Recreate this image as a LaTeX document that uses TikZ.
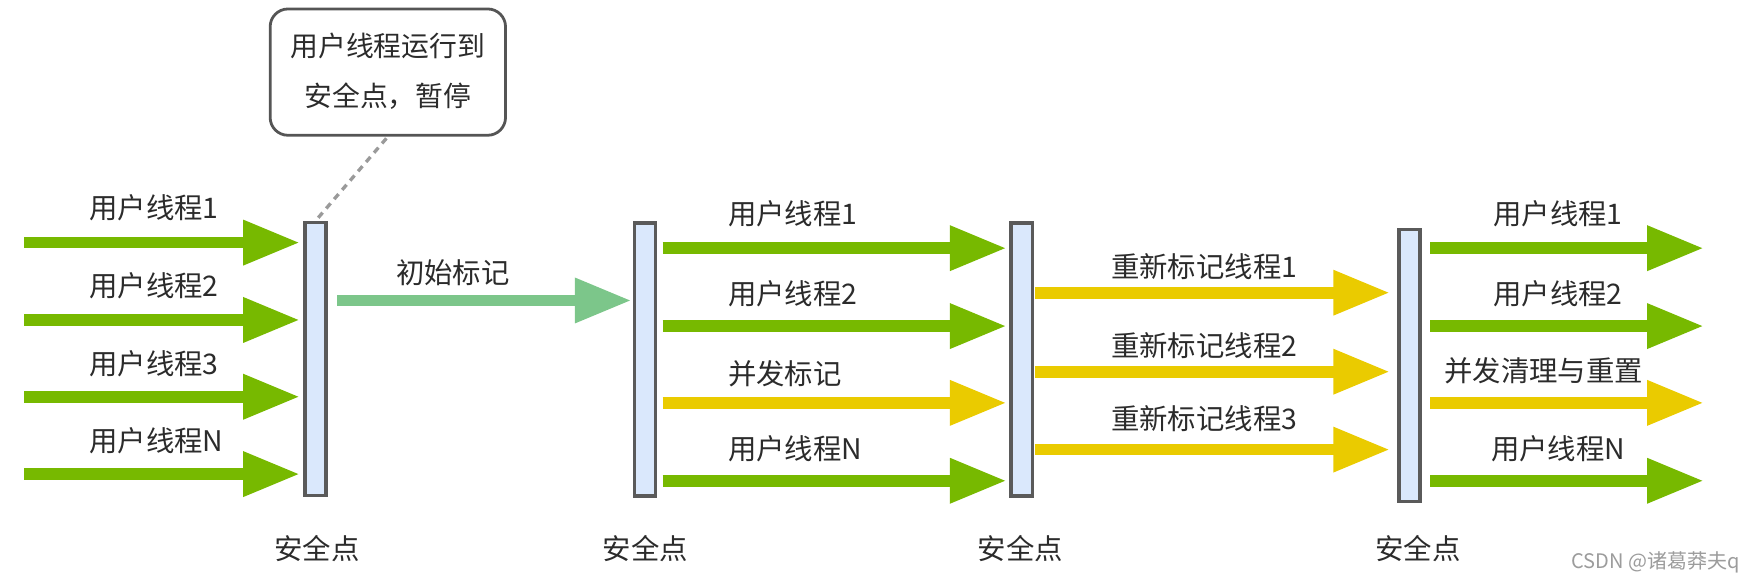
\documentclass[tikz,border=0pt]{standalone}
\usepackage{fontspec}
\setmainfont{Noto Sans CJK SC}
\usetikzlibrary{arrows.meta}
\definecolor{gr}{HTML}{77B900}
\definecolor{ye}{HTML}{EACB00}
\definecolor{lg}{HTML}{7CC68A}
\definecolor{barfill}{HTML}{DAE8FC}
\definecolor{barline}{HTML}{5A5A5A}
\definecolor{callline}{HTML}{555555}
\definecolor{dashcol}{HTML}{9A9A9A}
\definecolor{txt}{HTML}{2B2B2B}
\definecolor{wm}{HTML}{9C9C9C}
\begin{document}
\begin{tikzpicture}[x=1pt,y=-1pt,
  lbl/.style={inner sep=0pt, yshift=-5pt, font=\fontsize{25.5pt}{30pt}\selectfont, text=txt, text height=0.8em, text depth=0.1em},
  bar/.style={draw=barline, line width=3pt, fill=barfill, minimum width=19pt, minimum height=245.5pt, inner sep=0pt},
  arr/.style={line width=10.5pt, line cap=butt, -{Triangle[length=51pt 0 0,width=38pt 0 0]}},
  garr/.style={arr, draw=gr},
  yarr/.style={arr, draw=ye},
  larr/.style={arr, draw=lg}]
\useasboundingbox (0,0) rectangle (1568,522);

% bars (safe points)
\node[bar] (b1) at (283.5,322.75) {};
\node[bar] (b2) at (579.5,323) {};
\node[bar] (b3) at (918,323) {};
\node[bar, minimum height=244pt] (b4) at (1266.5,328.5) {};

% callout
\node[draw=callline, line width=2.5pt, rounded corners=16pt, minimum width=211.5pt, minimum height=113.5pt, inner sep=0pt] (call) at (348.5,64.8) {};
\node[lbl, font=\fontsize{25pt}{30pt}\selectfont] (c1) at (348.5,42) {用户线程运行到};
\node[lbl, font=\fontsize{25pt}{30pt}\selectfont] (c2) at (348.5,87) {安全点，暂停};
\draw[dashcol, line width=3pt, dash pattern=on 6pt off 5pt, shorten <=2pt, shorten >=2pt] (call.south) -- (b1.north);

% left group
\coordinate (L1) at (22,218);
\coordinate (L2) at (22,287.5);
\coordinate (L3) at (22,356.5);
\coordinate (L4) at (22,426);
\draw[garr, shorten >=3pt] (L1) -- (L1 -| b1.west);
\draw[garr, shorten >=3pt] (L2) -- (L2 -| b1.west);
\draw[garr, shorten >=3pt] (L3) -- (L3 -| b1.west);
\draw[garr, shorten >=3pt] (L4) -- (L4 -| b1.west);
\node[lbl, anchor=west] (t11) at (80,188) {用户线程1};
\node[lbl, anchor=west] (t12) at (80,258) {用户线程2};
\node[lbl, anchor=west] (t13) at (80,328) {用户线程3};
\node[lbl, anchor=west] (t14) at (80,397) {用户线程N};

% initial mark
\coordinate (I1) at (0,270);
\draw[larr, shorten <=8.5pt, shorten >=1pt] (I1 -| b1.east) -- (I1 -| b2.west);
\node[lbl] (ti) at (407,246) {初始标记};

% middle group
\coordinate (M1) at (0,223);
\coordinate (M2) at (0,293);
\coordinate (M3) at (0,362);
\coordinate (M4) at (0,432);
\draw[garr, shorten <=5pt, shorten >=2.5pt] (M1 -| b2.east) -- (M1 -| b3.west);
\draw[garr, shorten <=5pt, shorten >=2.5pt] (M2 -| b2.east) -- (M2 -| b3.west);
\draw[yarr, shorten <=5pt, shorten >=2.5pt] (M3 -| b2.east) -- (M3 -| b3.west);
\draw[garr, shorten <=5pt, shorten >=2.5pt] (M4 -| b2.east) -- (M4 -| b3.west);
\node[lbl, anchor=west] (t21) at (654,193) {用户线程1};
\node[lbl, anchor=west] (t22) at (654,265) {用户线程2};
\node[lbl, anchor=west] (t23) at (654,337) {并发标记};
\node[lbl, anchor=west] (t24) at (654,404) {用户线程N};

% remark group
\coordinate (R1) at (0,263);
\coordinate (R2) at (0,334);
\coordinate (R3) at (0,404);
\draw[yarr, shorten <=1pt, shorten >=6.5pt] (R1 -| b3.east) -- (R1 -| b4.west);
\draw[yarr, shorten <=1pt, shorten >=6.5pt] (R2 -| b3.east) -- (R2 -| b4.west);
\draw[yarr, shorten <=1pt, shorten >=6.5pt] (R3 -| b3.east) -- (R3 -| b4.west);
\node[lbl] (t31) at (1082,241) {重新标记线程1};
\node[lbl] (t32) at (1082,312) {重新标记线程2};
\node[lbl] (t33) at (1082,377) {重新标记线程3};

% right group
\coordinate (E1) at (1531,223);
\coordinate (E2) at (1531,293);
\coordinate (E3) at (1531,362);
\coordinate (E4) at (1531,432);
\draw[garr, shorten <=7.5pt] (E1 -| b4.east) -- (E1);
\draw[garr, shorten <=7.5pt] (E2 -| b4.east) -- (E2);
\draw[yarr, shorten <=7.5pt] (E3 -| b4.east) -- (E3);
\draw[garr, shorten <=7.5pt] (E4 -| b4.east) -- (E4);
\node[lbl] (t41) at (1400,193) {用户线程1};
\node[lbl] (t42) at (1400,265) {用户线程2};
\node[lbl] (t43) at (1387,334) {并发清理与重置};
\node[lbl] (t44) at (1400,404) {用户线程N};

% safe point labels
\node[lbl] (s1) at (285,494) {安全点};
\node[lbl] (s2) at (580,494) {安全点};
\node[lbl] (s3) at (917,494) {安全点};
\node[lbl] (s4) at (1274,494) {安全点};

% watermark
\node[inner sep=0pt, anchor=west, font=\fontsize{18pt}{21pt}\selectfont, text=wm, text height=0.8em, text depth=0.1em] (wmk) at (1412,507) {CSDN @诸葛莽夫q};
\end{tikzpicture}
\end{document}
